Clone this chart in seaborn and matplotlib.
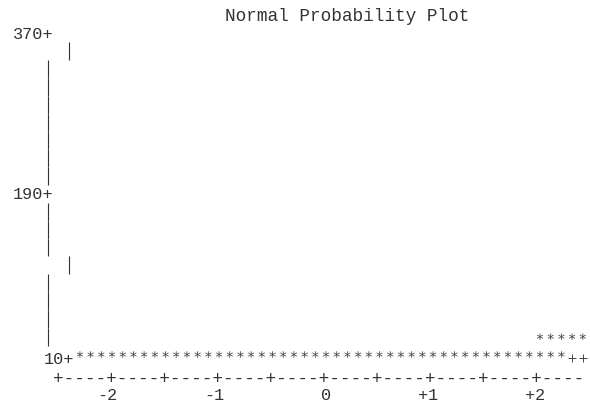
import matplotlib
matplotlib.use("Agg")
import matplotlib.pyplot as plt
import pandas as pd
import seaborn as sns

# --- Data --------------------------------------------------------------------
# columns are normal quantiles (one character = 0.1), rows are values (one line = 20)
star_q = [-2.3, -2.2, -2.1, -2.0, -1.9, -1.8, -1.7, -1.6, -1.5, -1.4,
          -1.3, -1.2, -1.1, -1.0, -0.9, -0.8, -0.7, -0.6, -0.5, -0.4,
          -0.3, -0.2, -0.1, 0.0, 0.1, 0.2, 0.3, 0.4, 0.5, 0.6,
          0.7, 0.8, 0.9, 1.0, 1.1, 1.2, 1.3, 1.4, 1.5, 1.6,
          1.7, 1.8, 1.9, 2.0, 2.1, 2.2,
          2.0, 2.1, 2.2, 2.3, 2.4]
star_v = [10, 10, 10, 10, 10, 10, 10, 10, 10, 10,
          10, 10, 10, 10, 10, 10, 10, 10, 10, 10,
          10, 10, 10, 10, 10, 10, 10, 10, 10, 10,
          10, 10, 10, 10, 10, 10, 10, 10, 10, 10,
          10, 10, 10, 10, 10, 10,
          30, 30, 30, 30, 30]

# normal reference line ("+" symbols)
ref_q = [2.3, 2.4]
ref_v = [6, 6]

# vertical axis labels
ylab_v = [370, 190, 10]
ylab_text = ["370+", "190+", "10+"]

# horizontal axis labels
xtick_q = [-2, -1, 0, 1, 2]
xtick_text = ["-2", "-1", "0", "+1", "+2"]

# rows where the "|" axis character shows, in two different columns
bar_rows_main = [330, 310, 290, 270, 250, 230, 210, 170, 150, 130, 90, 70, 50, 30]
bar_rows_shift = [350, 110]

TITLE = "Normal Probability Plot"

# --- Figure setup -------------------------------------------------------------
sns.set_style("white")
plt.rcParams["font.family"] = ["Liberation Mono", "DejaVu Sans Mono"]

INK = "#333333"
FS = 12.8
CHAR = 0.1  # one character width in quantile units

fig = plt.figure(figsize=(5.9, 4.02), dpi=100)
ax = fig.add_axes([0, 0, 1, 1])
ax.set_xlim(-3.047, 2.467)
ax.set_ylim(-42.1, 408.5)
ax.axis("off")

# --- Points -------------------------------------------------------------------
stars = pd.DataFrame({"q": star_q, "v": star_v})
sns.scatterplot(data=stars, x="q", y="v", marker="$*$", s=22,
                color="#444444", edgecolor="none", linewidth=0, ax=ax)

ref = pd.DataFrame({"q": ref_q, "v": ref_v})
sns.scatterplot(data=ref, x="q", y="v", marker="+", s=28,
                color="#444444", linewidth=0.7, ax=ax)

# --- Vertical axis made of "|" characters --------------------------------------
for r in bar_rows_main:
    ax.vlines(-2.6, r - 10, r + 10, color=INK, linewidth=0.8)
for r in bar_rows_shift:
    ax.vlines(-2.4, r - 10, r + 10, color=INK, linewidth=0.8)

right_edges = [-2.6 + CHAR / 2, -2.6 + CHAR / 2, -2.4 + CHAR / 2]
label_v = [370, 191, 6]  # text rows sit a little off the value grid
for v, txt, xr in zip(label_v, ylab_text, right_edges):
    ax.text(xr, v, txt, ha="right", va="center", fontsize=12.2, color=INK)

# --- Horizontal axis ------------------------------------------------------------
n_groups = len(xtick_q) * 2
axis_str = "+----" * n_groups
ax.text(-2.5 - CHAR / 2, -16.5, axis_str, ha="left", va="center",
        fontsize=FS, color=INK)
for q, txt in zip(xtick_q, xtick_text):
    ax.text(q + CHAR / 2, -35, txt, ha="right", va="center",
            fontsize=12.2, color=INK)

ax.text(0.2, 390, TITLE, ha="center", va="center", fontsize=FS, color=INK)

plt.savefig("out.png", dpi=100)
plt.close()
